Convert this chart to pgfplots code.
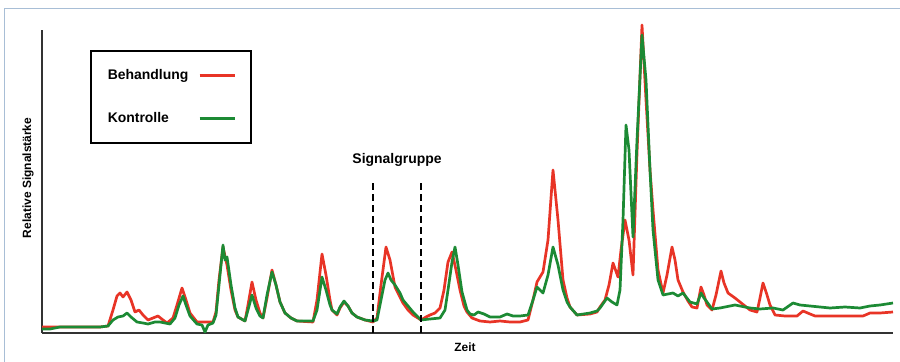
\documentclass[border=0pt]{standalone}
\usepackage{pgfplots}
\pgfplotsset{compat=1.18}
\usepackage{fontspec}
\setmainfont{Liberation Sans}
\definecolor{redline}{RGB}{232,52,38}
\definecolor{greenline}{RGB}{28,138,52}
\definecolor{framec}{RGB}{168,190,214}
\begin{document}
\begin{tikzpicture}
\useasboundingbox (-42bp,-29bp) rectangle (858bp,333bp);
\draw[framec, line width=1bp] (-37bp,-40bp) -- (-37bp,324bp) -- (870bp,324bp);
\begin{axis}[
  at={(0bp,0bp)}, anchor=south west,
  scale only axis, width=851bp, height=303bp,
  xmin=42, xmax=893, ymin=0, ymax=303,
  axis x line=bottom, axis y line=left,
  axis line style={-, draw=black!80, line width=1.6bp},
  xtick=\empty, ytick=\empty, clip=false,
  xlabel={Zeit}, ylabel={Relative Signalstärke},
  xlabel style={at={(rel axis cs:0.497,-0.046)}, anchor=center, font=\bfseries\fontsize{12}{14}\selectfont},
  ylabel style={at={(rel axis cs:-0.0165,0.512)}, anchor=center, font=\bfseries\fontsize{12}{14}\selectfont},
  legend style={at={(rel axis cs:0.0564,0.934)}, anchor=north west, draw=black, line width=1.6bp,
    inner xsep=15bp, inner ysep=17bp, row sep=27bp, column sep=8bp,
    font=\bfseries\fontsize{14}{16}\selectfont},
  legend plot pos=right,
  legend cell align=left,
  legend image code/.code={\draw[#1] (0bp,0bp) -- (35bp,0bp);},
]
\addplot[redline, line width=2.7bp, line join=round] coordinates {
(42,6) (60,6) (80,6) (100,6) (108,7) (113,23) (117,37) (120,40) (123,36) (127,41)
(131,33) (135,21) (139,23) (143,18) (148,13) (153,15) (158,17) (163,13) (167,10) (173,15)
(177,28) (182,45) (186,33) (190,20) (197,11) (205,11) (213,11) (216,21) (219,53) (223,86)
(227,68) (231,43) (235,23) (238,16) (245,12) (248,28) (252,51) (256,33) (260,20) (263,15)
(267,35) (272,63) (276,48) (280,31) (285,20) (291,15) (297,12) (313,11) (317,33) (322,79)
(326,58) (330,33) (332,23) (337,18) (340,25) (344,31) (348,27) (352,20) (357,16) (365,13)
(373,11) (377,15) (381,48) (386,86) (390,73) (395,46) (400,36) (403,30) (408,23) (413,18)
(421,13) (426,16) (430,18) (435,20) (440,25) (444,43) (448,71) (452,81) (456,63) (460,43)
(464,27) (467,21) (472,15) (480,12) (490,11) (500,12) (510,11) (520,11) (528,13) (533,33)
(537,51) (543,61) (548,93) (553,163) (558,113) (563,53) (567,35) (570,26) (577,18) (590,19)
(597,21) (600,26) (605,33) (609,48) (613,70) (618,56) (621,83) (625,113) (629,93) (633,58)
(637,180) (642,308) (646,233) (650,163) (653,123) (658,63) (663,40) (667,58) (672,86) (675,73)
(678,53) (683,41) (688,32) (692,26) (697,25) (701,46) (704,38) (707,28) (712,23) (716,38)
(721,62) (724,50) (728,40) (735,35) (740,31) (745,27) (750,23) (757,21) (760,35) (763,50)
(767,38) (770,28) (775,18) (785,17) (797,17) (803,22) (810,19) (815,17) (830,17) (850,17)
(863,17) (870,20) (880,20) (893,21)
};
\addlegendentry{Behandlung}
\addplot[greenline, line width=2.7bp, line join=round] coordinates {
(42,4) (50,4) (60,6) (80,6) (100,6) (108,7) (113,13) (118,16) (123,17) (127,20)
(131,16) (137,11) (143,10) (148,9) (155,11) (160,11) (165,10) (170,9) (175,15) (179,28)
(183,37) (186,28) (190,17) (197,9) (202,8) (205,1) (208,8) (213,10) (216,18) (219,48)
(223,88) (225,73) (227,76) (231,48) (235,25) (238,16) (245,12) (248,23) (252,38) (256,25)
(260,17) (263,15) (267,38) (272,61) (276,48) (280,31) (285,20) (291,15) (297,12) (313,12)
(317,23) (322,56) (326,43) (330,28) (332,23) (337,19) (340,26) (344,32) (348,27) (352,20)
(357,16) (365,13) (373,12) (377,13) (381,33) (385,53) (388,60) (391,53) (395,48) (400,40)
(403,33) (408,27) (413,21) (421,13) (430,14) (440,15) (445,23) (448,43) (452,71) (455,86)
(458,68) (462,41) (467,23) (470,19) (474,18) (478,21) (484,19) (490,16) (500,16) (507,19)
(513,17) (520,17) (528,18) (533,33) (537,46) (543,40) (548,58) (553,86) (558,68) (563,43)
(567,31) (570,26) (577,18) (590,20) (597,22) (600,25) (607,35) (612,31) (617,28) (620,43)
(623,113) (626,208) (629,183) (633,96) (637,193) (642,298) (646,253) (650,163) (653,103) (658,53)
(663,38) (668,39) (673,40) (678,37) (683,40) (690,31) (697,29) (701,40) (704,35) (707,31)
(712,24) (720,25) (735,28) (750,25) (760,24) (773,25) (783,23) (793,30) (800,28) (810,27)
(830,25) (845,26) (860,25) (870,27) (880,28) (893,30)
};
\addlegendentry{Kontrolle}
\addplot[black, line width=1.8bp, dash pattern=on 7bp off 4bp, forget plot] coordinates {(373,0) (373,153)};
\addplot[black, line width=1.8bp, dash pattern=on 7bp off 4bp, forget plot] coordinates {(421,0) (421,153)};
\node[font=\bfseries\fontsize{14}{16}\selectfont] at (axis cs:397,173) {Signalgruppe};
\end{axis}
\end{tikzpicture}
\end{document}
